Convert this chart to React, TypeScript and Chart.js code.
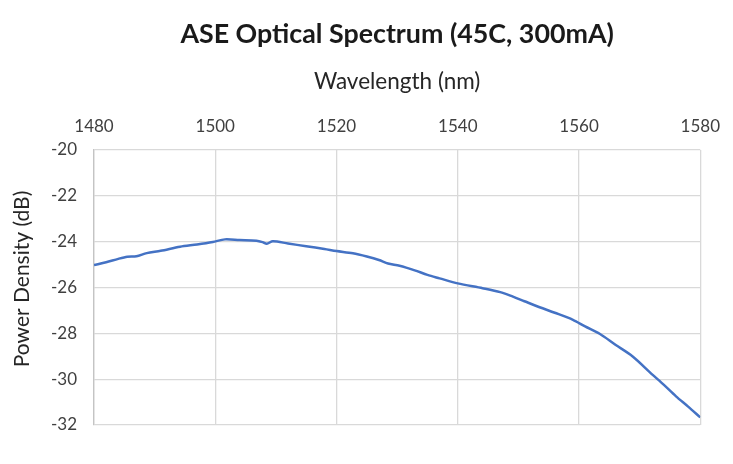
import React, { useEffect, useRef } from "react";
import { Chart, registerables } from "chart.js";

Chart.register(...registerables);

const wavelengths = [
  1480, 1482, 1484, 1485.5, 1487, 1488.7, 1491, 1494.2, 1497, 1499.6, 1501.6, 1504, 1506.8, 1507.8,
  1508.5, 1509.5, 1512, 1515, 1518, 1520, 1522.7, 1525, 1527, 1528.5, 1530.4, 1532.9, 1535, 1537,
  1540, 1544.1, 1547, 1549.1, 1551, 1553.5, 1556, 1559, 1561, 1563.4, 1566, 1568.8, 1572.1, 1574,
  1576, 1578, 1580,
];
const powerDensity = [
  -25.02, -24.9, -24.75, -24.66, -24.64, -24.5, -24.4, -24.22, -24.12, -24.01, -23.9, -23.93, -23.96,
  -24.02, -24.09, -23.98, -24.08, -24.2, -24.32, -24.41, -24.51, -24.65, -24.8, -24.95, -25.05,
  -25.25, -25.45, -25.6, -25.82, -26.03, -26.2, -26.4, -26.6, -26.86, -27.1, -27.41, -27.7, -28.02,
  -28.5, -29.0, -29.8, -30.25, -30.75, -31.2, -31.67,
];
const xTicks = [1480, 1500, 1520, 1540, 1560, 1580];
const yTicks = [-20, -22, -24, -26, -28, -30, -32];
const chartTitle = "ASE Optical Spectrum (45C, 300mA)";
const yTitle = "Power Density (dB)";

const FONT = "Lato, 'Open Sans', sans-serif";

const titlePlugin = {
  id: "customTitles",
  afterDraw(chart: any) {
    const { ctx, chartArea } = chart;
    ctx.save();
    ctx.font = `bold 26.8px ${FONT}`;
    ctx.fillStyle = "#1a1a1a";
    ctx.textAlign = "center";
    ctx.textBaseline = "middle";
    ctx.fillText(chartTitle, (chartArea.left + chartArea.right) / 2, 34);
    ctx.restore();
    ctx.save();
    ctx.font = `21px ${FONT}`;
    ctx.fillStyle = "#262626";
    ctx.textAlign = "center";
    ctx.textBaseline = "middle";
    ctx.translate(22, 279);
    ctx.rotate(-Math.PI / 2);
    ctx.fillText(yTitle, 0, 0);
    ctx.restore();
  },
};

export default function App() {
  const ref = useRef<HTMLCanvasElement | null>(null);
  useEffect(() => {
    if (!ref.current) return;
    const chart = new Chart(ref.current, {
      type: "line",
      data: {
        datasets: [
          {
            label: "ASE",
            data: wavelengths.map((w, i) => ({ x: w, y: powerDensity[i] })),
            borderColor: "#4472C4",
            borderWidth: 2.5,
            pointRadius: 0,
            tension: 0.3,
            fill: false,
          },
        ],
      },
      plugins: [titlePlugin],
      options: {
        responsive: false,
        animation: false,
        layout: { padding: { left: 0, top: 0, right: 30, bottom: 39 } },
        plugins: {
          legend: { display: false },
          tooltip: { enabled: false },
          title: { display: false },
        },
        scales: {
          x: {
            type: "linear",
            position: "top",
            min: 1480,
            max: 1580,
            afterBuildTicks: (s: any) => {
              s.ticks = xTicks.map((v) => ({ value: v }));
            },
            afterFit: (s: any) => {
              s.height = 150;
            },
            ticks: {
              color: "#404040",
              font: { family: FONT, size: 17 },
              padding: 13,
              maxRotation: 0,
              autoSkip: false,
              callback: (v: any) => String(v),
            },
            grid: { color: "#d9d9d9", lineWidth: 1.3, drawTicks: false },
            border: { display: false },
            title: {
              display: true,
              text: "Wavelength (nm)",
              color: "#262626",
              font: { family: FONT, size: 22.5, lineHeight: 1.2 },
              padding: { top: 68.5, bottom: 0 },
            },
          },
          y: {
            type: "linear",
            min: -32,
            max: -20,
            afterBuildTicks: (s: any) => {
              s.ticks = yTicks.map((v) => ({ value: v }));
            },
            afterFit: (s: any) => {
              s.width = 94;
            },
            ticks: {
              color: "#404040",
              font: { family: FONT, size: 17 },
              padding: 17,
              autoSkip: false,
              callback: (v: any) => String(v),
            },
            grid: { color: "#d9d9d9", lineWidth: 1.3, drawTicks: false },
            border: { display: true, color: "#c4c4c4", width: 1.3 },
            title: { display: false },
          },
        },
      },
    } as any);
    return () => chart.destroy();
  }, []);
  return (
    <div style={{ position: "fixed", left: 0, top: 0, width: 733, height: 464, background: "#fff" }}>
      <canvas ref={ref} width={733} height={464} style={{ width: 733, height: 464 }} />
    </div>
  );
}
